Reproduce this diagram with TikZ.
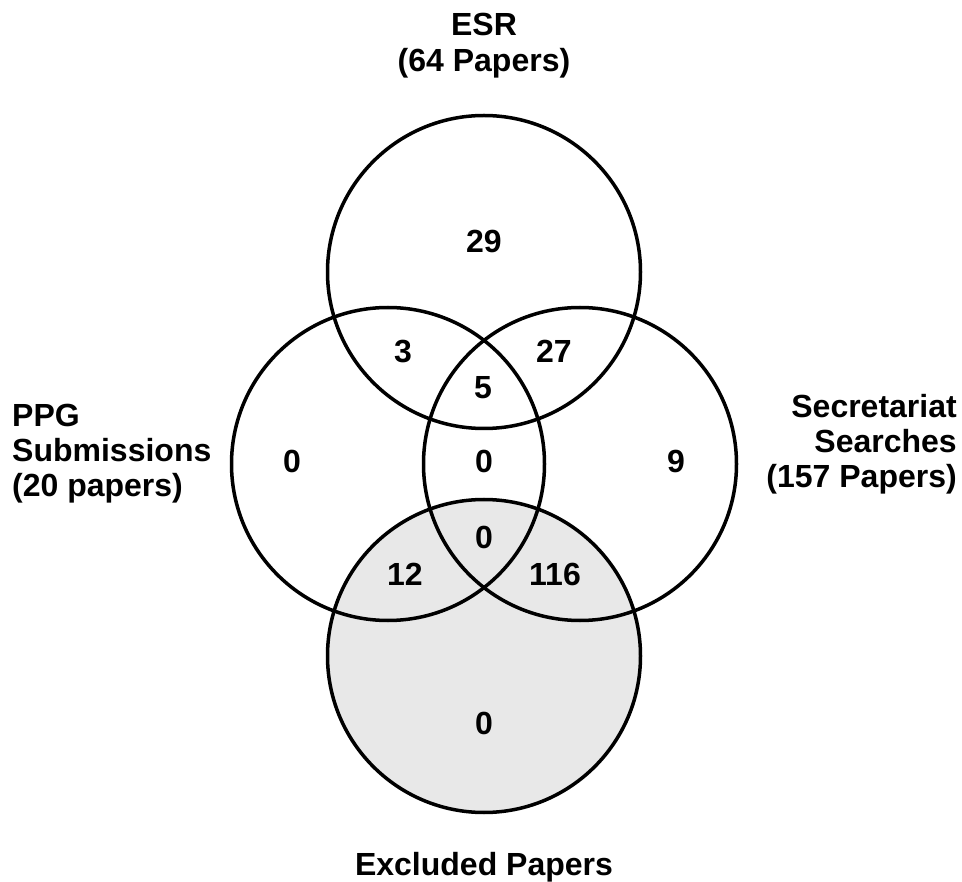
\documentclass[tikz,border=0pt]{standalone}
\usepackage{fontspec}
\setmainfont{Liberation Sans}
\definecolor{exclfill}{HTML}{E8E8E8}
\begin{document}
\begin{tikzpicture}[x=1pt,y=-1pt,
  ring/.style={circle,draw=black,line width=3.5pt,minimum size=313pt,inner sep=0pt},
  txt/.style={font=\bfseries\fontsize{32}{35}\selectfont,inner sep=0pt},
  num/.style={txt,anchor=base}]
\useasboundingbox (0,0) rectangle (962,882);
% circles
\node[ring,fill=exclfill] (excl) at (484,656) {};
\node[ring] (esr) at (484,272) {};
\node[ring] (ppg) at (388,464) {};
\node[ring] (sec) at (580,464) {};
% region counts
\node[num] (n29) at (484,253) {29};
\node[num] (n3) at (403,363) {3};
\node[num] (n27) at (554,363) {27};
\node[num] (n5) at (483,399) {5};
\node[num] (n0a) at (292,473) {0};
\node[num] (n0b) at (484,473) {0};
\node[num] (n9) at (676,473) {9};
\node[num] (n0c) at (484,548) {0};
\node[num] (n12) at (405,586) {12};
\node[num] (n116) at (555,586) {116};
\node[num] (n0d) at (484,734) {0};
% set labels
\node[txt,anchor=base] (esrA) at (484,36) {ESR};
\node[txt,anchor=base] (esrB) at (484,72) {(64 Papers)};
\node[txt,anchor=base west] (ppgA) at (12,427) {PPG};
\node[txt,anchor=base west] (ppgB) at (12,462) {Submissions};
\node[txt,anchor=base west] (ppgC) at (12,497) {(20 papers)};
\node[txt,anchor=base east] (secA) at (957,418) {Secretariat};
\node[txt,anchor=base east] (secB) at (957,453) {Searches};
\node[txt,anchor=base east] (secC) at (957,488) {(157 Papers)};
\node[txt,anchor=base] (exclA) at (484,875) {Excluded Papers};
\end{tikzpicture}
\end{document}
